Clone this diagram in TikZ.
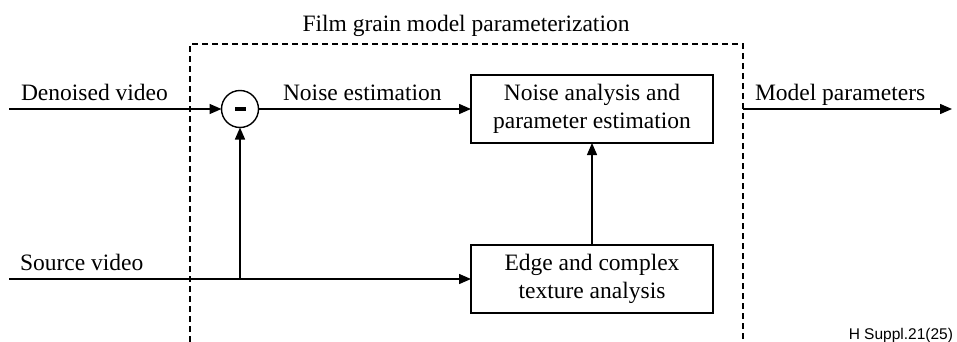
\documentclass[tikz,border=0pt]{standalone}
\usepackage{fontspec}
\setmainfont{Liberation Serif}
\newfontfamily\labelsans{Liberation Sans}
\usetikzlibrary{arrows.meta}
\begin{document}
\begin{tikzpicture}[x=1pt,y=-1pt,
  every node/.style={inner sep=0pt,outer sep=0pt},
  txt/.style={font=\fontsize{23.5}{28}\selectfont, anchor=base west},
  blk/.style={draw, line width=1.4pt, minimum width=242pt, minimum height=68pt,
              align=center, font=\fontsize{23.5}{28}\selectfont},
  flow/.style={line width=1.4pt, -{Triangle[length=12pt,width=10pt]}},
  wire/.style={line width=1.4pt},
  frame/.style={line width=1.2pt, dash pattern=on 6pt off 4pt}]
\useasboundingbox (0,0) rectangle (957,342);

% dashed frame
\coordinate (fbl) at (190,342);
\coordinate (ftl) at (190,44);
\coordinate (ftr) at (743,44);
\coordinate (fbr) at (743,342);
\draw[frame] (fbl) -- (ftl) -- (ftr) -- (fbr);
\node[txt, anchor=base] (title) at (466,32) {Film grain model parameterization};

% nodes
\node[draw, circle, line width=1.4pt, minimum size=37pt] (sub) at (240,109) {};
\fill (sub.center) ++(-5.5,-1.6) rectangle ++(11,3.2);
\node[blk] (nae) at (592,109) {Noise analysis and\\parameter estimation};
\node[blk] (ect) at (592,279) {Edge and complex\\texture analysis};

\coordinate (din) at (9,109);
\coordinate (sin) at (9,279);
\coordinate (jn) at (240,279);
\coordinate (mpo) at (743,109);
\coordinate (mpe) at (952,109);

% connectors
\draw[flow] (din) -- (sub);
\draw[flow] (sub) -- (nae);
\draw[flow] (sin) -- (ect);
\draw[flow] (jn) -- (sub);
\draw[flow] (ect) -- (nae);
\draw[flow] (mpo) -- (mpe);

% labels
\node[txt] (ldn) at (21,100) {Denoised video};
\node[txt] (lsv) at (20,270) {Source video};
\node[txt] (lne) at (283,100) {Noise estimation};
\node[txt] (lmp) at (755,100) {Model parameters};
\node[font=\labelsans\fontsize{15.5}{18}\selectfont, anchor=base east] (ref) at (953,339) {H Suppl.21(25)};
\end{tikzpicture}
\end{document}
